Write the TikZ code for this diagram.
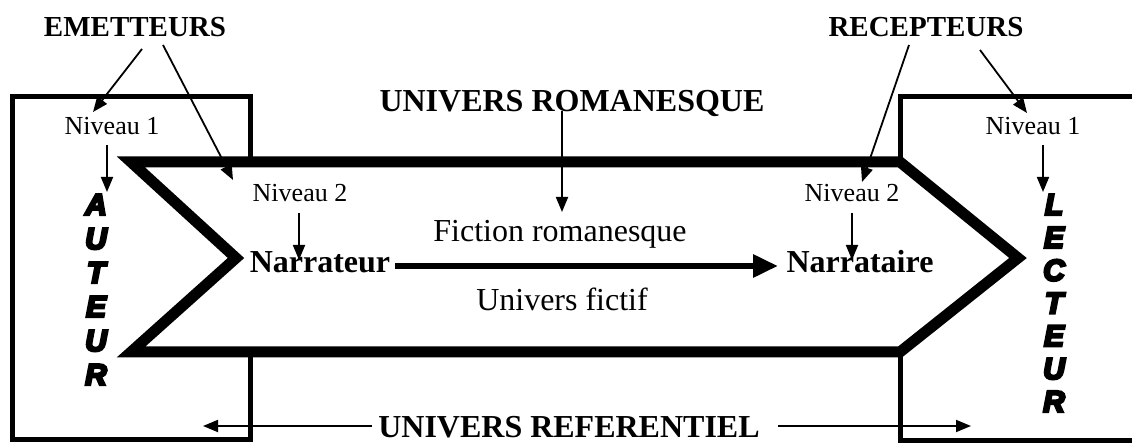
\documentclass[tikz,border=0pt]{standalone}
\usepackage{fontspec}
\setmainfont{Liberation Serif}
\newfontfamily\heavyfont[FakeBold=8, BoldItalicFeatures={FakeBold=8}]{Liberation Sans}
\usetikzlibrary{arrows.meta}
\begin{document}
\begin{tikzpicture}[x=1pt,y=-1pt,
  box/.style={line width=5pt, line join=miter},
  chevron/.style={line width=11pt, fill=white, line join=miter, miter limit=10},
  thinarrow/.style={line width=1.8pt, -{Triangle[length=15pt,width=12pt]}},
  thickarrow/.style={line width=6pt, -{Triangle[length=25pt,width=22pt]}},
  lvl/.style={font=\fontsize{26}{30}\selectfont, inner sep=0pt, anchor=base},
  title/.style={font=\fontsize{29}{33}\selectfont\bfseries, inner sep=0pt, anchor=base},
  big/.style={font=\fontsize{32}{36}\selectfont, inner sep=0pt, anchor=base},
  bigb/.style={font=\fontsize{32}{36}\selectfont\bfseries, inner sep=0pt, anchor=base},
  heavy/.style={font=\heavyfont\bfseries\itshape\fontsize{30}{34}\selectfont, inner sep=0pt, anchor=base},
]
\useasboundingbox (0,0) rectangle (1132,443);
\clip (0,0) rectangle (1132,443);

% boxes
\draw[box] (12,97) rectangle (250,439);
\draw[box] (1150,97) -- (900,97) -- (900,440) -- (1150,440);

% chevron
\draw[chevron] (131,162) -- (900,162) -- (1018,258) -- (900,352) -- (131,352) -- (236,258) -- cycle;

% texts
\node[title] (emet) at (135,37) {EMETTEURS};
\node[title] (recep) at (926,37) {RECEPTEURS};
\node[bigb] (roman) at (572,112) {UNIVERS ROMANESQUE};
\node[lvl] (n1l) at (112,135) {Niveau 1};
\node[lvl] (n1r) at (1033,135) {Niveau 1};
\node[lvl] (n2l) at (300,202) {Niveau 2};
\node[lvl] (n2r) at (852,202) {Niveau 2};
\node[big] (fiction) at (560,242) {Fiction romanesque};
\node[bigb] (narrateur) at (320,273) {Narrateur};
\node[bigb] (narrataire) at (860,273) {Narrataire};
\node[big] (fictif) at (562,311) {Univers fictif};
\node[bigb] (refer) at (569,437) {UNIVERS REFERENTIEL};

\foreach \ch [count=\i] in {A,U,T,E,U,R}
  \node[heavy] (aut\i) at (96,{215+34*(\i-1)}) {\ch};
\foreach \ch [count=\i] in {L,E,C,T,E,U,R}
  \node[heavy] (lec\i) at (1054,{215+32.8*(\i-1)}) {\ch};

% connector end points
\coordinate (e1s) at (142,49);  \coordinate (e1t) at (93,112);
\coordinate (e2s) at (163,45);  \coordinate (e2t) at (233,180);
\coordinate (r1s) at (909,45);  \coordinate (r1t) at (862,182);
\coordinate (r2s) at (980,50);  \coordinate (r2t) at (1027,113);
\coordinate (a1s) at (107,145); \coordinate (a1t) at (107,192);
\coordinate (l1s) at (1043,145); \coordinate (l1t) at (1043,192);
\coordinate (n2ls) at (299,213); \coordinate (n2lt) at (299,260);
\coordinate (n2rs) at (852,213); \coordinate (n2rt) at (852,260);
\coordinate (rs) at (562,111); \coordinate (rt) at (562,212);
\coordinate (hs) at (395,266); \coordinate (ht) at (778,266);
\coordinate (bls) at (372,426); \coordinate (blt) at (203,426);
\coordinate (brs) at (778,426); \coordinate (brt) at (971,426);

% connectors
\draw[thinarrow] (e1s) -- (e1t);
\draw[thinarrow] (e2s) -- (e2t);
\draw[thinarrow] (r1s) -- (r1t);
\draw[thinarrow] (r2s) -- (r2t);
\draw[thinarrow] (a1s) -- (a1t);
\draw[thinarrow] (l1s) -- (l1t);
\draw[thinarrow] (n2ls) -- (n2lt);
\draw[thinarrow] (n2rs) -- (n2rt);
\draw[thinarrow] (rs) -- (rt);
\draw[thickarrow] (hs) -- (ht);
\draw[thinarrow] (bls) -- (blt);
\draw[thinarrow] (brs) -- (brt);
\end{tikzpicture}
\end{document}
